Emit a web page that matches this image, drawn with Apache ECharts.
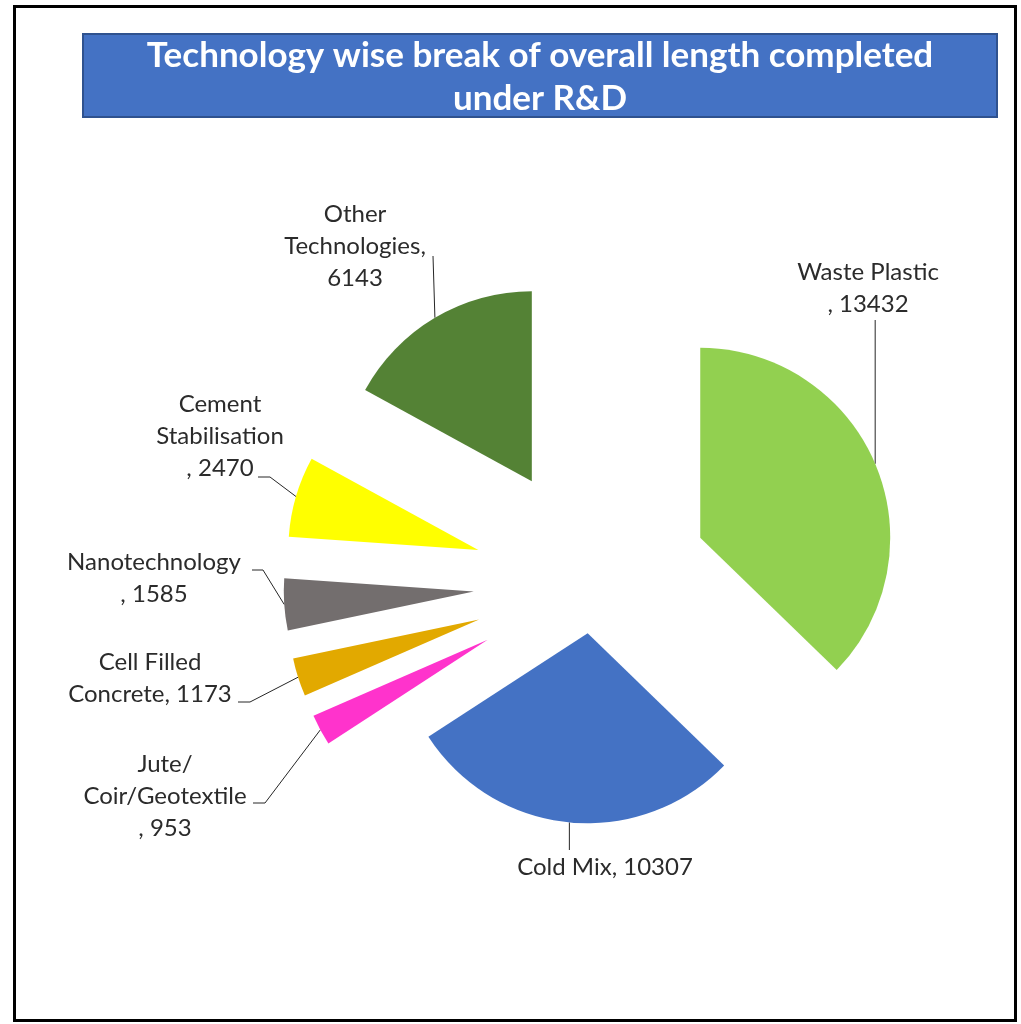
<!DOCTYPE html>
<html>
<head>
<meta charset="utf-8">
<script src="https://cdn.jsdelivr.net/npm/echarts@6/dist/echarts.min.js"></script>
<style>
html,body{margin:0;padding:0;background:#fff;}
#chart{width:1021px;height:1024px;}
</style>
</head>
<body>
<div id="chart"></div>
<script>
// ---- data ----
const categories = ['Waste Plastic', 'Cold Mix', 'Jute/Coir/Geotextile', 'Cell Filled Concrete', 'Nanotechnology', 'Cement Stabilisation', 'Other Technologies'];
const values = [13432, 10307, 953, 1173, 1585, 2470, 6143];
const labelTemplates = ['Waste Plastic\n, {c}', 'Cold Mix, {c}', 'Jute/\nCoir/Geotextile\n, {c}', 'Cell Filled\nConcrete, {c}', 'Nanotechnology\n, {c}', 'Cement\nStabilisation\n, {c}', 'Other\nTechnologies,\n{c}'];
const titleText = 'Technology wise break of overall length completed\nunder R&D';

// ---- style / layout ----
const colors = ['#92D050', '#4472C4', '#FF33CC', '#E2A900', '#736E6E', '#FFFF00', '#548235'];
const pieCenter = [592.5, 583.5];
const pieRadius = 190;
const explode = [117, 50, 119, 119, 119, 119, 119];
// label block centre and leader-line bend points (null x = same x as start)
const labelPlacement = [
  {x: 868, y: 288, pts: [[null, 320]]},
  {x: 605, y: 867, pts: [[null, 850]]},
  {x: 165, y: 796, pts: [[265, 803], [253, 803]]},
  {x: 150, y: 678, pts: [[250, 702], [238, 702]]},
  {x: 154, y: 578, pts: [[263, 570], [252, 570]]},
  {x: 220, y: 436, pts: [[270, 477], [258, 477]]},
  {x: 355, y: 246, pts: [[433, 256]]}
];
const labelFont = {fontFamily: 'Lato', fontSize: 24, lineHeight: 32, color: '#2b2b2b'};

const total = values.reduce((a, b) => a + b, 0);
let acc = 0;
const midAngles = values.map(v => {
  const m = (90 - (acc + v / 2) / total * 360) * Math.PI / 180;
  acc += v;
  return m;
});

const series = values.map((v, i) => {
  const c = [pieCenter[0] + explode[i] * Math.cos(midAngles[i]), pieCenter[1] - explode[i] * Math.sin(midAngles[i])];
  const start = [c[0] + pieRadius * Math.cos(midAngles[i]), c[1] - pieRadius * Math.sin(midAngles[i])];
  return {
    type: 'pie',
    name: categories[i],
    center: c,
    radius: pieRadius,
    startAngle: 90,
    clockwise: true,
    avoidLabelOverlap: false,
    silent: true,
    animation: false,
    emphasis: {disabled: true},
    itemStyle: {borderWidth: 0},
    label: Object.assign({show: true, position: 'outside'}, labelFont),
    labelLine: {show: true, lineStyle: {color: '#262626', width: 1}},
    data: categories.map((name, j) => j === i ? {
      name: name,
      value: values[j],
      itemStyle: {color: colors[j]},
      label: {formatter: labelTemplates[j]}
    } : {
      name: name,
      value: values[j],
      itemStyle: {color: 'rgba(0,0,0,0)'},
      label: {show: false},
      labelLine: {show: false}
    }),
    labelLayout: function (p) {
      if (p.dataIndex !== i) return {};
      const L = labelPlacement[i];
      const pts = [start].concat(L.pts.map(q => [q[0] === null ? start[0] : q[0], q[1]]));
      return {x: L.x, y: L.y, align: 'center', verticalAlign: 'middle', labelLinePoints: pts};
    }
  };
});

const chart = echarts.init(document.getElementById('chart'), null, {renderer: 'canvas'});
chart.setOption({
  animation: false,
  backgroundColor: '#ffffff',
  graphic: [
    {type: 'rect', z: 0, shape: {x: 14.5, y: 6.5, width: 1001, height: 1014}, style: {fill: 'none', stroke: '#000000', lineWidth: 3}},
    {type: 'rect', z: 0, shape: {x: 83, y: 34, width: 914, height: 83}, style: {fill: '#4472C4', stroke: '#2F528F', lineWidth: 2}},
    {type: 'text', z: 1, x: 540, y: 77, style: {text: titleText, align: 'center', verticalAlign: 'middle', font: 'bold 35px Lato', lineHeight: 43, fill: '#ffffff'}}
  ],
  series: series
});
</script>
</body>
</html>
